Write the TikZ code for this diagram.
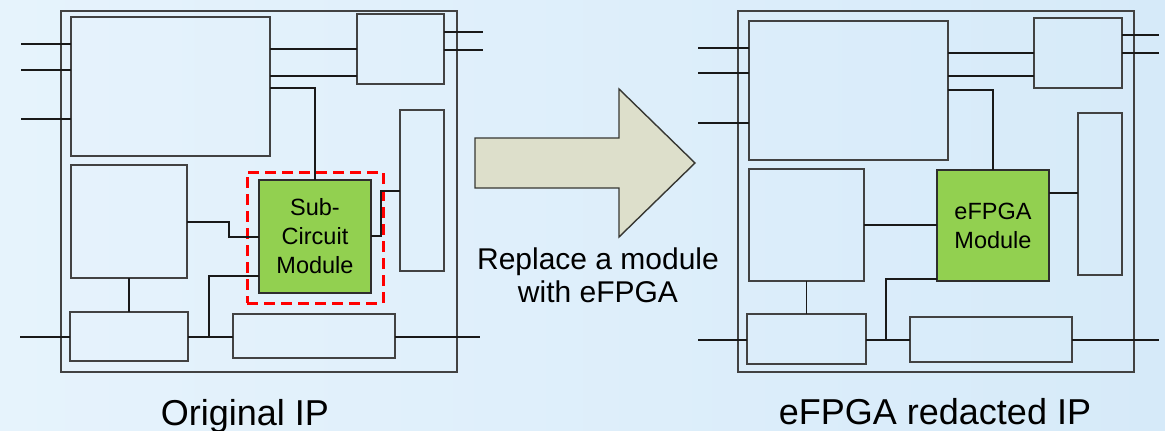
\documentclass[tikz,border=0pt]{standalone}
\usepackage{fontspec}
\setmainfont{Liberation Sans}
\usetikzlibrary{calc}
\definecolor{bgA}{RGB}{230,243,252}
\definecolor{bgB}{RGB}{214,234,249}
\definecolor{boxline}{RGB}{66,66,66}
\definecolor{wirecol}{RGB}{25,25,25}
\definecolor{modgreen}{RGB}{146,208,80}
\definecolor{arrowfill}{RGB}{221,223,203}
\definecolor{arrowline}{RGB}{55,55,50}
\begin{document}
\begin{tikzpicture}[x=1pt,y=-1pt,
  blk/.style={draw=boxline, line width=2pt, rectangle, inner sep=0pt, outer sep=0pt, anchor=north west},
  outerbox/.style={blk, line width=2pt},
  module/.style={blk, fill=modgreen, draw=boxline!70!black, text=black, font=\fontsize{23.5}{29}\selectfont, align=center},
  wire/.style={draw=wirecol, line width=1.5pt},
  redbox/.style={draw=red, line width=3pt, dash pattern=on 11pt off 6pt, rectangle, inner sep=0pt, outer sep=0pt, anchor=north west},
  lbl/.style={font=\fontsize{36}{42}\selectfont, text=black},
]
\useasboundingbox (0,0) rectangle (1165,431);
\fill[left color=bgA, right color=bgB] (0,0) rectangle (1165,431);

% ---------------- Left: Original IP ----------------
\node[outerbox, minimum width=396, minimum height=361] (Lout) at (61,11) {};
\node[blk, minimum width=199, minimum height=139] (LA) at (71,17) {};
\node[blk, minimum width=87, minimum height=70] (LB) at (357,14) {};
\node[blk, minimum width=44, minimum height=161] (LC) at (400,110) {};
\node[blk, minimum width=116, minimum height=113] (LD) at (71,165) {};
\node[blk, minimum width=118, minimum height=49] (LE) at (70,312) {};
\node[blk, minimum width=162, minimum height=44] (LF) at (233,314) {};
\node[module, minimum width=112, minimum height=113] (LG) at (259,180) {Sub-\\Circuit\\Module};
\node[redbox, minimum width=136, minimum height=131] (Lred) at (247,172) {};

\coordinate (Lin1) at (21,44);
\coordinate (Lin2) at (21,70);
\coordinate (Lin3) at (21,119);
\coordinate (Lin4) at (20,337);
\coordinate (Lo1) at (483,32);
\coordinate (Lo2) at (483,50);
\coordinate (Lo3) at (480,337);
\coordinate (Ljn) at (209,337);

\draw[wire] (Lin1) -- (LA.west |- Lin1);
\draw[wire] (Lin2) -- (LA.west |- Lin2);
\draw[wire] (Lin3) -- (LA.west |- Lin3);
\draw[wire] (LA.east |- 0,49) -- (LB.west |- 0,49);
\draw[wire] (LA.east |- 0,76) -- (LB.west |- 0,76);
\draw[wire] (LB.east |- Lo1) -- (Lo1);
\draw[wire] (LB.east |- Lo2) -- (Lo2);
\draw[wire] (LA.east |- 0,88) -| (LG.north);
\draw[wire] (LG.east |- 0,236) -- (381,236) -- (381,191) -- (LC.west |- 0,191);
\draw[wire] (LD.east |- 0,222) -- (229,222) -- (229,237) -- (LG.west |- 0,237);
\draw[wire] (LD.south) -- (LE.north);
\draw[wire] (Lin4) -- (LE.west |- Lin4);
\draw[wire] (LE.east |- Lin4) -- (LF.west |- Lin4);
\draw[wire] (Ljn) |- (LG.west |- 0,276);
\draw[wire] (LF.east |- Lo3) -- (Lo3);

\node[lbl, anchor=base] (Lcap) at (245,425) {Original IP};

% ---------------- Middle arrow ----------------
\filldraw[fill=arrowfill, draw=arrowline, line width=1.4pt, line join=miter]
  (475,138) -- (619,138) -- (619,89) -- (695,163) -- (619,237) -- (619,188) -- (475,188) -- cycle;
\node[font=\fontsize{30}{33}\selectfont, text=black, align=center, anchor=north] (rep) at (598,244) {Replace a module\\with eFPGA};

% ---------------- Right: eFPGA redacted IP ----------------
\node[outerbox, minimum width=396, minimum height=361] (Rout) at (738,11) {};
\node[blk, minimum width=199, minimum height=139] (RA) at (749,21) {};
\node[blk, minimum width=88, minimum height=70] (RB) at (1034,18) {};
\node[blk, minimum width=44, minimum height=162] (RC) at (1078,113) {};
\node[blk, minimum width=115, minimum height=112] (RD) at (749,169) {};
\node[blk, minimum width=119, minimum height=50] (RE) at (747,314) {};
\node[blk, minimum width=162, minimum height=45] (RF) at (910,317) {};
\node[module, minimum width=112, minimum height=111] (RG) at (937,170) {eFPGA\\Module};

\coordinate (Rin1) at (698,48);
\coordinate (Rin2) at (698,73);
\coordinate (Rin3) at (698,123);
\coordinate (Rin4) at (698,340);
\coordinate (Ro1) at (1159,35);
\coordinate (Ro2) at (1159,53);
\coordinate (Ro3) at (1159,340);
\coordinate (Rjn) at (886,340);

\draw[wire] (Rin1) -- (RA.west |- Rin1);
\draw[wire] (Rin2) -- (RA.west |- Rin2);
\draw[wire] (Rin3) -- (RA.west |- Rin3);
\draw[wire] (RA.east |- 0,53) -- (RB.west |- 0,53);
\draw[wire] (RA.east |- 0,76) -- (RB.west |- 0,76);
\draw[wire] (RB.east |- Ro1) -- (Ro1);
\draw[wire] (RB.east |- Ro2) -- (Ro2);
\draw[wire] (RA.east |- 0,90) -| (RG.north);
\draw[wire] (RG.east |- 0,193) -- (RC.west |- 0,193);
\draw[wire] (RD.east |- 0,225) -- (RG.west |- 0,225);
\draw[wire] (RD.south) -- (RE.north);
\draw[wire] (Rin4) -- (RE.west |- Rin4);
\draw[wire] (RE.east |- Rin4) -- (RF.west |- Rin4);
\draw[wire] (Rjn) |- (RG.west |- 0,279);
\draw[wire] (RF.east |- Ro3) -- (Ro3);

\node[lbl, anchor=base] (Rcap) at (935,424) {eFPGA redacted IP};
\end{tikzpicture}
\end{document}
